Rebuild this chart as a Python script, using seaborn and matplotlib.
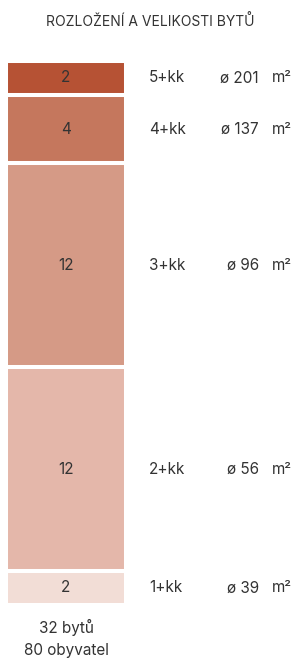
import matplotlib
matplotlib.use("Agg")
import matplotlib.pyplot as plt
import matplotlib.transforms as mtransforms
import numpy as np
import pandas as pd
import seaborn as sns

# data: from top (largest flat) to bottom
typy = ["5+kk", "4+kk", "3+kk", "2+kk", "1+kk"]
pocty = [2, 4, 12, 12, 2]
plochy = [201, 137, 96, 56, 39]
barvy = ["#B65234", "#C5775D", "#D59A86", "#E4B7AA", "#F2DDD6"]
titulek = "ROZLOŽENÍ A VELIKOSTI BYTŮ"
souhrn = ["32 bytů", "80 obyvatel"]

sns.set_style("white")
plt.rcParams["font.family"] = ["Inter", "DejaVu Sans"]
text_c = "#333333"

W, H = 301, 659
fig = plt.figure(figsize=(W / 100, H / 100), dpi=100)

# bar axes in pixel box (incl. half of the white edge)
x0, x1, y0, y1 = 6, 126, 61, 605
ax = fig.add_axes([x0 / W, 1 - y1 / H, (x1 - x0) / W, (y1 - y0) / H])

# cumulative tops from bottom; draw tallest first so the stack shows
kum = np.cumsum(pocty[::-1])[::-1]
df = pd.DataFrame({"kat": ["byty"] * len(typy), "typ": typy, "kum": kum})
sns.barplot(data=df, x="kat", y="kum", hue="typ", hue_order=typy,
            palette=dict(zip(typy, barvy)), dodge=False, width=1,
            edgecolor="white", linewidth=2.9, saturation=1,
            legend=False, ax=ax, errorbar=None)
for p in ax.patches:
    p.set_clip_on(False)
ax.set_xlim(-0.5, 0.5)
ax.set_ylim(0, kum[0])
ax.axis("off")

fs = 11
trans = mtransforms.blended_transform_factory(fig.transFigure, ax.transData)
for typ, n, pl, top in zip(typy, pocty, plochy, kum):
    stred = top - n / 2
    ax.text(0, stred, str(n), ha="center", va="center", fontsize=fs,
            color=text_c)
    ax.text(149 / W, stred, typ, transform=trans, ha="left", va="center",
            fontsize=fs, color=text_c)
    ax.text(259 / W, stred, f"ø {pl}", transform=trans, ha="right",
            va="center", fontsize=fs, color=text_c)
    ax.text(272 / W, stred, "m²", transform=trans, ha="left",
            va="center", fontsize=fs, color=text_c)

fig.text(150 / W, 1 - 22 / H, titulek, ha="center", va="center",
         fontsize=10, color=text_c)
fig.text(66 / W, 1 - 627 / H, souhrn[0], ha="center", va="center",
         fontsize=fs, color=text_c)
fig.text(66 / W, 1 - 650 / H, souhrn[1], ha="center", va="center",
         fontsize=fs, color=text_c)

fig.savefig("out.png", dpi=100, facecolor="white")
